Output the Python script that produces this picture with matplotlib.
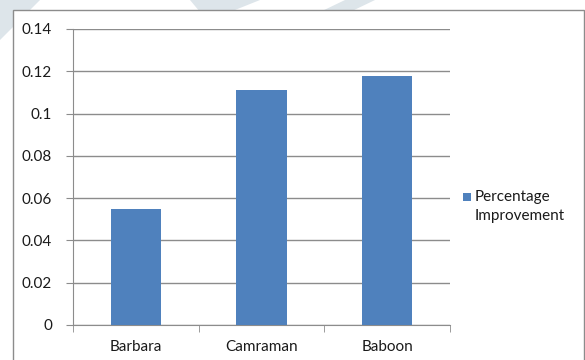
import matplotlib
matplotlib.use("Agg")
import matplotlib.pyplot as plt
from matplotlib.patches import Rectangle, Polygon

categories = ["Barbara", "Camraman", "Baboon"]
improvement = [0.055, 0.111, 0.118]
yticks = [0, 0.02, 0.04, 0.06, 0.08, 0.1, 0.12, 0.14]
ytick_labels = ["0", "0.02", "0.04", "0.06", "0.08", "0.1", "0.12", "0.14"]
series_name = ["Percentage", "Improvement"]

W, H = 585, 360
fig = plt.figure(figsize=(W / 100, H / 100), dpi=100)
fig.patch.set_facecolor("white")

# faint diagonal watermark strokes behind the chart
wm = "#dde5ea"
fig.patches.append(Polygon([(0 / W, 1 - 0 / H), (40 / W, 1 - 0 / H), (0 / W, 1 - 40 / H)],
                           closed=True, transform=fig.transFigure, facecolor=wm, edgecolor="none", zorder=0))
fig.patches.append(Polygon([(190 / W, 1 - 0 / H), (260 / W, 1 - 0 / H), (230 / W, 1 - 12 / H), (200 / W, 1 - 12 / H)],
                           closed=True, transform=fig.transFigure, facecolor=wm, edgecolor="none", zorder=0))
fig.patches.append(Polygon([(320 / W, 1 - 12 / H), (345 / W, 1 - 0 / H), (375 / W, 1 - 0 / H), (350 / W, 1 - 12 / H)],
                           closed=True, transform=fig.transFigure, facecolor=wm, edgecolor="none", zorder=0))

# chart frame
frame = Rectangle((13 / W, -0.01), (W - 14) / W, 1 - 10 / H + 0.01, transform=fig.transFigure,
                  facecolor="white", edgecolor="#8c8c8c", linewidth=1.0, zorder=1)
fig.patches.append(frame)

left, right, top, bottom = 73, 450, 29, 325
ax = fig.add_axes([left / W, 1 - bottom / H, (right - left) / W, (bottom - top) / H])
ax.set_facecolor("none")
ax.set_zorder(2)

font = "Lato"
fs = 11
x = list(range(len(categories)))
ax.bar(x, improvement, width=0.4, color="#4f81bd", zorder=3)

ax.set_xlim(-0.5, len(categories) - 0.5)
ax.set_ylim(0, 0.14)
ax.set_yticks(yticks)
ax.set_yticklabels(ytick_labels, fontsize=fs, family=font, color="#1a1a1a")
ax.set_xticks(x)
ax.set_xticklabels(categories, fontsize=fs, family=font, color="#1a1a1a")

ax.grid(axis="y", color="#8c8c8c", linewidth=1.0, zorder=0)
ax.set_axisbelow(True)

for s in ["top", "right"]:
    ax.spines[s].set_visible(False)
ax.spines["left"].set_color("#8c8c8c")
ax.spines["bottom"].set_color("#8c8c8c")

ax.tick_params(axis="y", length=5, color="#8c8c8c", pad=10, direction="out")
ax.tick_params(axis="x", length=0, pad=11)
# ticks at category boundaries
ax.set_xticks([-0.5, 0.5, 1.5, 2.5], minor=True)
ax.tick_params(axis="x", which="minor", length=5, color="#8c8c8c", direction="out")

# legend
fig.patches.append(Rectangle((463 / W, 1 - 201 / H), 8 / W, 8 / H, transform=fig.transFigure,
                             facecolor="#4f81bd", edgecolor="none", zorder=3))
fig.text(475 / W, 1 - 197 / H, series_name[0], fontsize=fs, family=font, color="#1a1a1a",
         va="center", ha="left")
fig.text(475 / W, 1 - 216 / H, series_name[1], fontsize=fs, family=font, color="#1a1a1a",
         va="center", ha="left")

fig.savefig("out.png", dpi=100, facecolor="white")
